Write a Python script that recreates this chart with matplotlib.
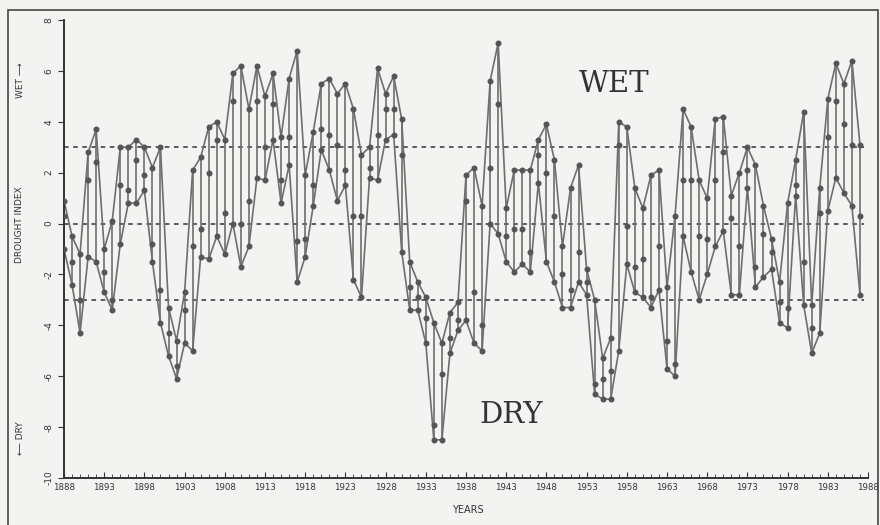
import matplotlib
matplotlib.use("Agg")
import matplotlib.pyplot as plt
from matplotlib.patches import Rectangle

# annees 1888-1987
years = list(range(1888, 1988))

# valeur haute de chaque annee
hi = [0.9, -0.5, -1.2, 2.8, 3.7, -1.0, 0.1, 3.0, 3.0, 3.3,
      3.0, 2.2, 3.0, -3.3, -4.6, -2.7, 2.1, 2.6, 3.8, 4.0,
      3.3, 5.9, 6.2, 4.5, 6.2, 5.0, 5.9, 3.4, 5.7, 6.8,
      1.9, 3.6, 5.5, 5.7, 5.1, 5.5, 4.5, 2.7, 3.0, 6.1,
      5.1, 5.8, 4.1, -1.5, -2.3, -2.9, -3.9, -4.7, -3.5, -3.1,
      1.9, 2.2, 0.7, 5.6, 7.1, 0.6, 2.1, 2.1, 2.1, 3.3,
      3.9, 2.5, -0.9, 1.4, 2.3, -1.8, -3.0, -5.3, -4.5, 4.0,
      3.8, 1.4, 0.6, 1.9, 2.1, -2.5, 0.3, 4.5, 3.8, 1.7,
      1.0, 4.1, 4.2, 1.1, 2.0, 3.0, 2.3, 0.7, -0.6, -2.3,
      0.8, 2.5, 4.4, -3.2, 1.4, 4.9, 6.3, 5.5, 6.4, 3.1]

# valeur basse
lo = [-1.0, -2.4, -4.3, -1.3, -1.5, -2.7, -3.4, -0.8, 0.8, 0.8,
      1.3, -1.5, -3.9, -5.2, -6.1, -4.7, -5.0, -1.3, -1.4, -0.5,
      -1.2, 0.0, -1.7, -0.9, 1.8, 1.7, 3.3, 0.8, 2.3, -2.3,
      -1.3, 0.7, 2.9, 2.1, 0.9, 1.5, -2.2, -2.9, 1.8, 1.7,
      3.3, 3.5, -1.1, -3.4, -3.4, -4.7, -8.5, -8.5, -5.1, -4.2,
      -3.8, -4.7, -5.0, 0.0, -0.4, -1.5, -1.9, -1.6, -1.9, 1.6,
      -1.5, -2.3, -3.3, -3.3, -2.3, -2.8, -6.7, -6.9, -6.9, -5.0,
      -1.6, -2.7, -2.9, -3.3, -2.6, -5.7, -6.0, -0.5, -1.9, -3.0,
      -2.0, -0.9, -0.3, -2.8, -2.8, 1.4, -2.5, -2.1, -1.8, -3.9,
      -4.1, 1.1, -3.2, -5.1, -4.3, 0.5, 1.8, 1.2, 0.7, -2.8]

# valeur intermediaire
mid = [0.3, -1.5, -3.0, 1.7, 2.4, -1.9, -3.0, 1.5, 1.3, 2.5,
       1.9, -0.8, -2.6, -4.3, -5.6, -3.4, -0.9, -0.2, 2.0, 3.3,
       0.4, 4.8, 0.0, 0.9, 4.8, 3.0, 4.7, 1.7, 3.4, -0.7,
       -0.6, 1.5, 3.7, 3.5, 3.1, 2.1, 0.3, 0.3, 2.2, 3.5,
       4.5, 4.5, 2.7, -2.5, -2.9, -3.7, -7.9, -5.9, -4.5, -3.8,
       0.9, -2.7, -4.0, 2.2, 4.7, -0.5, -0.2, -0.2, -1.1, 2.7,
       2.0, 0.3, -2.0, -2.6, -1.1, -2.3, -6.3, -6.1, -5.8, 3.1,
       -0.1, -1.7, -1.4, -2.9, -0.9, -4.6, -5.5, 1.7, 1.7, -0.5,
       -0.6, 1.7, 2.8, 0.2, -0.9, 2.1, -1.7, -0.4, -1.1, -3.1,
       -3.3, 1.5, -1.5, -4.1, 0.4, 3.4, 4.8, 3.9, 3.1, 0.3]

seuils = [3, 0, -3]
yticks = list(range(-10, 9, 2))
xticks = list(range(1888, 1989, 5))

gris = "#6e6e6e"
fond = "#f3f3f1"

fig = plt.figure(figsize=(8.8, 5.25), dpi=100)
fig.patch.set_facecolor(fond)
ax = fig.add_axes([64/880, 1-478/525, (868-64)/880, (478-20)/525])
ax.set_facecolor(fond)

#lignes pointillees
for s in seuils:
    ax.plot([1888, 1987.5], [s, s], color="#333333", lw=1.1, ls=(0, (3, 3)), zorder=1)

#barres verticales et enveloppes
ax.vlines(years, lo, hi, color=gris, lw=1.2, zorder=2)
ax.plot(years, hi, color=gris, lw=1.2, zorder=2)
ax.plot(years, lo, color=gris, lw=1.2, zorder=2)
for serie in [hi, mid, lo]:
    ax.plot(years, serie, ls="none", marker="o", ms=3.3, color="#555555", zorder=3)

ax.set_xlim(1888, 1988)
ax.set_ylim(-10, 8)
for side in ["top", "right"]:
    ax.spines[side].set_visible(False)
for side in ["left", "bottom"]:
    ax.spines[side].set_color("#333333")
    ax.spines[side].set_linewidth(1.4)

ax.set_yticks(yticks)
ax.set_yticklabels([str(v) for v in yticks], rotation=90, va="center", fontsize=6.5, color="#333333")
ax.set_xticks(xticks)
ax.set_xticklabels([str(v) for v in xticks], fontsize=6.2, color="#333333")
ax.set_xticks(years, minor=True)
ax.tick_params(axis="x", which="both", direction="in", length=3, color="#333333")
ax.tick_params(axis="x", which="major", length=4)
ax.tick_params(axis="y", direction="out", length=4, color="#333333")

#textes
fig.text(20/880, 1-225/525, "DROUGHT INDEX", rotation=90, ha="center", va="center", fontsize=6.5, color="#333333")
fig.text(20/880, 1-80/525, "WET \u27f6", rotation=90, ha="center", va="center", fontsize=6.5, color="#333333")
fig.text(20/880, 1-438/525, "\u27f5 DRY", rotation=90, ha="center", va="center", fontsize=6.5, color="#333333")
fig.text(468/880, 1-510/525, "YEARS", ha="center", va="center", fontsize=7, color="#333333")
fig.text(511/880, 1-415/525, "DRY", fontsize=21, family="DejaVu Serif", color="#333333", ha="center", va="center")
fig.text(614/880, 1-84/525, "WET", fontsize=21, family="DejaVu Serif", color="#333333", ha="center", va="center")

#cadre exterieur
fig.patches.append(Rectangle((8/880, -0.01), 870/880, 1-10/525+0.01, transform=fig.transFigure,
                             fill=False, edgecolor="#444444", lw=1.2))

plt.savefig("out.png", dpi=100, facecolor=fond)
